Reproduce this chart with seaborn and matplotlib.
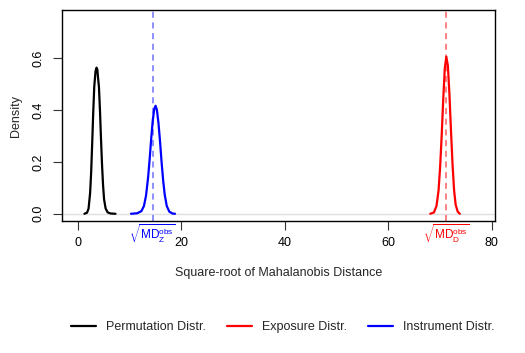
import numpy as np
import pandas as pd
import matplotlib
matplotlib.use("Agg")
import matplotlib.pyplot as plt
import matplotlib.transforms as mtransforms
from matplotlib.lines import Line2D
import seaborn as sns

# density curves
perm_x = [1.3, 1.8, 2.1, 2.4, 2.6, 2.8, 3.0, 3.2, 3.45, 3.65, 3.8, 3.95, 4.1, 4.3,
          4.5, 4.7, 4.9, 5.1, 5.4, 5.8, 6.4, 7.3]
perm_y = [0.000, 0.004, 0.02, 0.08, 0.16, 0.27, 0.39, 0.49, 0.55, 0.563, 0.555, 0.52,
          0.49, 0.40, 0.29, 0.19, 0.11, 0.055, 0.02, 0.005, 0.001, 0.000]

inst_x = [10.3, 11.5, 12.3, 12.8, 13.2, 13.6, 13.9, 14.2, 14.5, 14.8, 15.05, 15.3,
          15.6, 15.9, 16.2, 16.5, 16.8, 17.2, 17.7, 18.3, 18.8]
inst_y = [0.000, 0.002, 0.01, 0.03, 0.07, 0.14, 0.21, 0.29, 0.36, 0.405, 0.416, 0.40,
          0.35, 0.28, 0.20, 0.13, 0.075, 0.03, 0.008, 0.001, 0.000]

expo_x = [68.1, 68.8, 69.3, 69.7, 70.0, 70.3, 70.6, 70.9, 71.2, 71.5, 71.8, 72.1,
          72.4, 72.7, 73.0, 73.4, 73.8]
expo_y = [0.000, 0.005, 0.03, 0.09, 0.18, 0.30, 0.44, 0.56, 0.605, 0.57, 0.46, 0.32,
          0.19, 0.09, 0.035, 0.008, 0.000]

obs_z = 14.5   # sqrt(MD_Z obs)
obs_d = 71.2   # sqrt(MD_D obs)

x_ticks = [0, 20, 40, 60, 80]
y_ticks = [0.0, 0.2, 0.4, 0.6]

FS = 9

sns.set_theme(style="white")
plt.rcParams["font.family"] = ["Liberation Sans", "DejaVu Sans"]
plt.rcParams["mathtext.fontset"] = "custom"
plt.rcParams["mathtext.rm"] = "Liberation Sans"
plt.rcParams["font.size"] = FS

fig = plt.figure(figsize=(5.25, 3.53), dpi=100)
ax = fig.add_axes([62 / 525, 1 - 221.3 / 353, (495 - 62) / 525, (221.3 - 10) / 353])

ax.axhline(0, color="#e0e0e0", lw=1, zorder=0)
ax.axvline(obs_z, color="#7070ff", lw=1.1, ls=(0, (4, 3)))
ax.axvline(obs_d, color="#ff6060", lw=1.1, ls=(0, (4, 3)))

sns.lineplot(x=perm_x, y=perm_y, color="black", lw=1.6, ax=ax)
sns.lineplot(x=expo_x, y=expo_y, color="red", lw=1.6, ax=ax)
sns.lineplot(x=inst_x, y=inst_y, color="blue", lw=1.6, ax=ax)

ax.set_xlim(-3.03, 80.6)
ax.set_ylim(-0.029, 0.785)
ax.set_xticks(x_ticks)
ax.set_yticks(y_ticks)
ax.set_yticklabels([f"{v:.1f}" for v in y_ticks], rotation=90, va="center")
ax.tick_params(axis="both", direction="out", length=6.5, width=0.8, color="#333333",
               labelsize=FS, colors="black")
ax.tick_params(axis="x", pad=5)
ax.tick_params(axis="y", pad=6)
ax.tick_params(bottom=True, left=True)
for s in ax.spines.values():
    s.set_color("black")
    s.set_linewidth(1.0)

ax.set_xlabel("Square-root of Mahalanobis Distance", fontsize=FS, labelpad=13)
ax.set_ylabel("Density", fontsize=FS, labelpad=8)

trans = mtransforms.blended_transform_factory(ax.transData, ax.transAxes)
ax.text(obs_z, -0.058, r"$\sqrt{\mathrm{MD}_{\mathrm{Z}}^{\mathrm{obs}}}$", color="blue",
        ha="center", va="center", fontsize=8.5, transform=trans)
ax.text(obs_d, -0.058, r"$\sqrt{\mathrm{MD}_{\mathrm{D}}^{\mathrm{obs}}}$", color="red",
        ha="center", va="center", fontsize=8.5, transform=trans)

handles = [Line2D([], [], color="black", lw=1.6),
           Line2D([], [], color="red", lw=1.6),
           Line2D([], [], color="blue", lw=1.6)]
labels = ["Permutation Distr.", "Exposure Distr.", "Instrument Distr."]
fig.legend(handles, labels, loc="center", bbox_to_anchor=(0.538, 0.074), ncol=3,
           frameon=False, fontsize=FS, handlelength=2.0, columnspacing=1.7,
           handletextpad=0.8)

fig.savefig("out.png", dpi=100)
